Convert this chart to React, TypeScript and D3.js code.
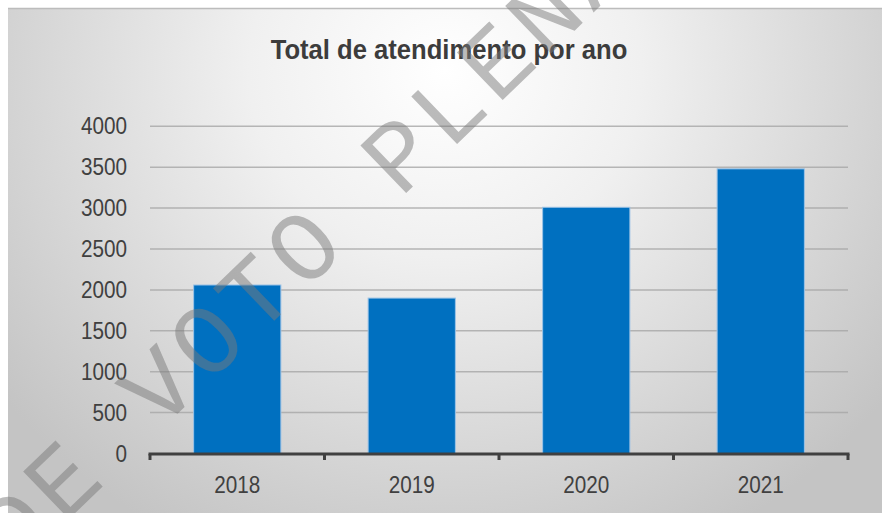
import React from "react";
import * as d3 from "d3";

const categories = ["2018", "2019", "2020", "2021"];
const values = [2060, 1900, 3010, 3480];
const yTicks = [0, 500, 1000, 1500, 2000, 2500, 3000, 3500, 4000];
const title = "Total de atendimento por ano";
const watermark = "DE VOTO PLENÁRIO";

const W = 882;
const H = 513;

export default function App() {
  const x = d3.scaleBand<string>().domain(categories).range([150, 848]).paddingInner(0.5).paddingOuter(0.25);
  const y = d3.scaleLinear().domain([0, 4000]).range([453.5, 126.3]);
  const step = x.step();
  const tickXs = [0, 1, 2, 3, 4].map((i) => 150 + i * step);
  const font = "'Liberation Sans', Arial, sans-serif";

  return (
    <svg width={W} height={H} style={{ position: "absolute", left: 0, top: 0 }}>
      <defs>
        <radialGradient id="bg" gradientUnits="userSpaceOnUse" cx={445} cy={70} r={560}
          gradientTransform="translate(445,70) scale(1,0.95) translate(-445,-70)">
          <stop offset="0" stopColor="#ffffff" />
          <stop offset="0.35" stopColor="#f0f0f0" />
          <stop offset="1" stopColor="#c4c4c4" />
        </radialGradient>
      </defs>
      <rect x={0} y={0} width={W} height={H} fill="#ffffff" />
      <rect x={8} y={8} width={W - 8} height={H - 8} fill="url(#bg)" />
      <line x1={8} x2={W} y1={8.5} y2={8.5} stroke="#bcbcbc" strokeWidth={1.5} />

      <text transform={`translate(449,59) scale(0.915,1)`} textAnchor="middle" fontFamily={font}
        fontWeight="bold" fontSize={28} fill="#3c3c3c">{title}</text>

      {yTicks.filter((t) => t > 0).map((t) => (
        <line key={"g" + t} x1={150} x2={848} y1={y(t)} y2={y(t)} stroke="#a6a6a6" strokeOpacity={0.8} strokeWidth={1.5} />
      ))}
      {yTicks.map((t) => (
        <text key={"yl" + t} transform={`translate(127,${y(t) + 8}) scale(0.9,1)`} textAnchor="end"
          fontFamily={font} fontSize={23} fill="#404040">{t}</text>
      ))}

      {categories.map((c, i) => (
        <rect key={c} x={x(c)} y={y(values[i])} width={x.bandwidth()} height={y(0) - y(values[i])}
          fill="#0070c0" stroke="#9dc3e6" strokeWidth={1} />
      ))}

      <line x1={148.5} x2={849.5} y1={454} y2={454} stroke="#404040" strokeWidth={3} />
      {tickXs.map((tx, i) => (
        <line key={"t" + i} x1={tx} x2={tx} y1={454} y2={460} stroke="#404040" strokeWidth={3} />
      ))}
      {categories.map((c) => (
        <text key={"xl" + c} transform={`translate(${(x(c) as number) + x.bandwidth() / 2},493) scale(0.9,1)`}
          textAnchor="middle" fontFamily={font} fontSize={23} fill="#404040">{c}</text>
      ))}

      <text transform="translate(15,571) rotate(-44)" fontFamily="'Liberation Mono', monospace"
        fontSize={100} letterSpacing={7} fill="#7a7a7a" fillOpacity={0.5}>{watermark}</text>
    </svg>
  );
}
